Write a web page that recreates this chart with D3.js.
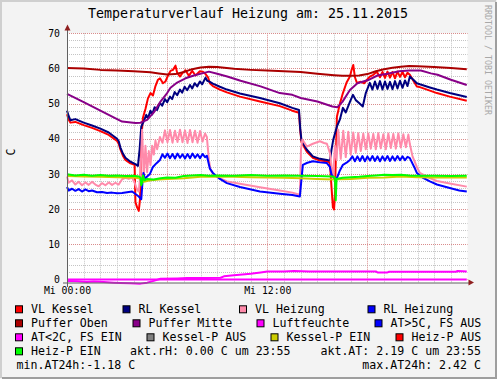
<!DOCTYPE html>
<html>
<head>
<meta charset="utf-8">
<script src="https://cdn.jsdelivr.net/npm/d3@7"></script>
<style>
body { margin: 0; background: #f3f3f3; }
svg text { font-family: "DejaVu Sans Mono", monospace; }
</style>
</head>
<body>
<svg id="chart" width="497" height="379"></svg>
<script>
// values are [hour of day, degrees C]
var vlKessel = [[0,47.0],[0.1,45.5],[0.2,44.6],[0.5,44.8],[1,43.9],[1.5,43.1],[2,42.2],[2.5,41.1],[3.0,39.4],[3.1,38.6],[3.2,37.0],[3.35,35.2],[3.5,34.0],[3.8,33.0],[4.05,32.6],[4.1,22.0],[4.2,20.5],[4.3,19.5],[4.38,23.0],[4.45,40.0],[4.55,46.0],[4.7,48.5],[4.85,51.5],[5.0,53.0],[5.15,52.3],[5.3,55.0],[5.45,56.8],[5.57,57.2],[5.75,55.8],[5.9,56.3],[6.05,58.0],[6.2,59.3],[6.35,59.6],[6.5,60.8],[6.6,58.8],[6.77,57.7],[6.9,58.6],[7.1,59.5],[7.3,57.9],[7.5,59.3],[7.7,58.0],[7.96,59.2],[8.14,59.1],[8.3,58.4],[8.45,57.5],[8.56,55.8],[8.74,55.0],[9.16,54.0],[9.58,53.2],[10.36,52.0],[11.56,50.6],[12.75,49.3],[13.5,48.0],[13.9,47.4],[13.97,42.5],[14.05,39.0],[14.37,36.3],[14.73,34.6],[15.15,33.8],[15.57,33.6],[15.75,33.2],[15.85,26.0],[15.93,20.5],[16.0,19.9],[16.05,24.0],[16.17,46.3],[16.35,50.0],[16.53,53.0],[16.75,56.0],[16.95,57.7],[17.05,59.6],[17.15,61.0],[17.25,57.5],[17.37,55.9],[17.6,56.2],[17.8,55.8],[18.14,57.7],[18.35,58.2],[18.56,59.1],[18.75,57.5],[18.9,59.0],[19.05,57.3],[19.2,59.1],[19.35,57.4],[19.5,59.0],[19.65,57.2],[19.8,59.1],[19.95,57.6],[20.1,59.0],[20.25,57.5],[20.4,58.8],[20.54,58.2],[20.75,56.5],[20.96,54.9],[21.14,54.7],[21.74,53.7],[22.16,53.0],[22.93,52.0],[23.95,50.8]];

var rlKessel = [[0,48.0],[0.1,46.5],[0.2,45.3],[0.5,45.6],[1,44.6],[1.5,43.8],[2,42.9],[2.5,41.8],[3.0,40.0],[3.1,39.3],[3.2,37.5],[3.35,35.8],[3.5,34.6],[3.8,33.5],[4.1,32.8],[4.25,32.3],[4.35,37.0],[4.45,43.5],[4.6,45.0],[4.75,46.8],[4.85,45.8],[5.0,48.0],[5.1,46.9],[5.25,49.0],[5.4,48.2],[5.57,50.2],[5.7,49.4],[5.87,51.3],[6.0,50.4],[6.17,52.0],[6.3,51.3],[6.45,53.3],[6.6,52.4],[6.77,54.0],[6.9,53.1],[7.05,54.8],[7.2,53.8],[7.37,55.3],[7.5,54.3],[7.65,55.8],[7.8,54.9],[7.96,56.3],[8.1,55.5],[8.3,57.4],[8.4,56.5],[8.56,56.2],[8.74,55.7],[9.16,54.8],[9.58,54.0],[10.36,52.9],[11.56,51.6],[12.75,50.1],[13.5,48.8],[13.9,48.2],[13.97,43.0],[14.05,39.5],[14.37,36.9],[14.73,35.0],[15.15,34.3],[15.57,34.0],[15.75,33.8],[15.85,37.0],[15.95,39.7],[16.17,43.5],[16.35,45.5],[16.53,48.8],[16.7,47.5],[16.95,50.5],[17.13,52.5],[17.3,51.0],[17.5,50.2],[17.72,49.2],[17.9,53.0],[18.14,55.9],[18.3,54.0],[18.45,56.3],[18.6,54.2],[18.75,56.4],[18.9,54.0],[19.05,56.3],[19.2,54.2],[19.35,56.2],[19.5,54.1],[19.65,56.4],[19.8,54.3],[19.95,56.5],[20.1,54.5],[20.25,56.6],[20.4,55.0],[20.54,57.7],[20.75,56.8],[20.96,55.8],[21.14,55.5],[21.74,54.6],[22.16,54.0],[22.93,53.0],[23.95,51.9]];

var vlHeizung = [[0,29.3],[0.1,27.5],[0.3,28.2],[0.5,27.0],[0.7,27.8],[0.9,26.8],[1.1,27.6],[1.3,26.9],[1.5,27.8],[1.7,27.0],[1.9,26.5],[2.1,27.4],[2.3,26.8],[2.5,27.6],[2.7,26.9],[2.9,27.5],[3.1,27.0],[3.3,28.5],[3.5,28.9],[3.7,28.6],[3.9,29.0],[4.05,27.5],[4.2,25.5],[4.3,25.0],[4.4,30.0],[4.5,42.6],[4.6,29.0],[4.7,38.0],[4.8,30.5],[4.9,36.5],[5.0,32.5],[5.1,38.0],[5.2,35.5],[5.3,39.5],[5.4,37.0],[5.57,40.5],[5.72,38.9],[5.87,42.4],[6.02,39.0],[6.17,42.5],[6.32,38.9],[6.47,42.3],[6.62,39.1],[6.77,42.6],[6.92,39.0],[7.07,42.4],[7.22,38.8],[7.37,42.5],[7.52,39.0],[7.67,42.3],[7.82,38.9],[7.97,42.2],[8.12,39.2],[8.27,41.5],[8.38,40.5],[8.5,34.0],[8.6,31.2],[8.8,29.6],[9.16,28.8],[9.58,27.9],[10.36,27.2],[11.56,26.2],[12.75,25.3],[13.5,24.7],[13.95,24.1],[14.02,37.0],[14.1,39.8],[14.37,37.8],[14.73,38.6],[15.15,39.3],[15.4,38.8],[15.57,38.6],[15.75,36.0],[15.85,32.0],[15.95,29.5],[16.05,38.0],[16.15,34.0],[16.25,42.6],[16.4,34.3],[16.55,42.3],[16.7,34.8],[16.85,42.0],[17.0,35.5],[17.15,41.8],[17.3,36.0],[17.45,41.6],[17.6,36.5],[17.75,41.5],[17.9,37.0],[18.05,41.5],[18.2,37.2],[18.35,41.4],[18.5,37.0],[18.65,41.6],[18.8,37.3],[18.95,41.3],[19.1,37.0],[19.25,41.5],[19.4,37.4],[19.55,41.4],[19.7,37.2],[19.85,41.5],[20.0,37.5],[20.15,41.3],[20.3,37.6],[20.45,41.2],[20.54,38.5],[20.7,35.0],[20.96,32.0],[21.14,30.3],[21.74,28.8],[22.16,28.0],[22.93,27.3],[23.95,26.4]];

var rlHeizung = [[0,26.3],[0.1,25.3],[0.3,25.8],[0.5,25.2],[0.7,25.7],[0.9,25.0],[1.1,25.6],[1.3,25.1],[1.5,25.3],[1.8,24.8],[2.1,24.9],[2.4,24.6],[2.7,24.7],[3.0,24.5],[3.3,24.6],[3.6,24.8],[3.9,25.0],[4.1,24.3],[4.3,23.6],[4.45,22.8],[4.52,27.5],[4.58,30.3],[4.68,28.5],[4.8,29.3],[4.97,30.0],[5.15,32.0],[5.35,33.0],[5.57,34.0],[5.72,35.6],[5.87,34.6],[6.02,35.8],[6.17,34.5],[6.32,35.7],[6.47,34.4],[6.62,35.8],[6.77,34.6],[6.92,35.6],[7.07,34.4],[7.22,35.7],[7.37,34.5],[7.52,35.8],[7.67,34.6],[7.82,35.6],[7.97,34.5],[8.12,35.7],[8.27,34.8],[8.38,35.2],[8.56,31.5],[8.74,30.3],[9.16,28.6],[9.58,27.4],[10.36,26.3],[11.56,25.0],[12.75,24.4],[13.5,24.0],[13.95,23.6],[14.13,32.6],[14.4,33.2],[14.73,33.6],[15.15,33.3],[15.57,33.1],[15.75,32.0],[15.85,29.8],[16.0,28.8],[16.17,28.8],[16.35,31.0],[16.53,32.6],[16.75,33.2],[16.95,34.0],[17.1,35.0],[17.25,33.6],[17.4,35.0],[17.55,33.7],[17.7,35.1],[17.85,33.6],[18.0,35.0],[18.15,33.8],[18.3,35.1],[18.45,33.7],[18.6,35.0],[18.75,33.6],[18.9,35.0],[19.05,33.8],[19.2,35.1],[19.35,33.7],[19.5,35.0],[19.65,33.8],[19.8,35.1],[19.95,33.9],[20.1,35.0],[20.25,33.9],[20.4,34.9],[20.54,34.5],[20.8,32.0],[20.96,30.3],[21.3,29.0],[21.74,27.9],[22.16,27.0],[22.93,26.0],[23.5,25.3],[23.95,25.0]];

var pufferOben = [[0,60.1],[1,60.0],[2,59.6],[3,59.4],[4,59.2],[5,58.9],[5.5,58.6],[6,58.3],[6.5,58.4],[7,59.0],[7.5,59.8],[8,60.3],[8.5,60.5],[9,60.4],[10,59.9],[11,59.6],[12,59.4],[13,59.2],[14,59.0],[15,58.5],[16,58.1],[16.5,57.9],[17,57.9],[17.5,58.0],[18,58.4],[18.5,59.2],[19,59.8],[19.5,60.2],[20,60.5],[20.5,60.7],[21,60.6],[22,60.4],[23,60.1],[23.95,59.8]];

var pufferMitte = [[0,52.8],[1,50.4],[2,48.0],[3,45.6],[3.3,44.9],[4.1,44.5],[4.4,44.6],[4.8,45.4],[5.2,47.5],[5.6,50.6],[6.0,53.0],[6.2,54.5],[6.6,56.0],[7.1,57.2],[7.6,58.0],[8.1,58.6],[8.5,59.1],[9.0,58.5],[9.6,57.7],[10.4,56.5],[11.6,54.9],[12.75,53.0],[13.5,52.5],[14,51.6],[15,50.6],[15.9,49.2],[16.2,49.0],[16.5,50.5],[16.95,53.9],[17.4,55.8],[18.1,56.8],[18.6,58.0],[19.2,58.5],[19.9,59.2],[20.5,59.4],[21.2,59.4],[21.8,58.6],[22.2,58.2],[23,56.8],[23.95,55.3]];

var luftfeuchte = [[0,0],[23.95,0]];

var aussenTemp = [[0,-0.4],[0.6,-0.5],[1.2,-0.7],[1.6,-0.6],[2.2,-0.7],[2.8,-0.9],[3.2,-1.0],[3.8,-1.1],[4.4,-1.18],[4.8,-0.9],[5.2,-0.4],[5.6,0.2],[6.6,0.3],[7.2,0.4],[8.3,0.4],[9.2,0.5],[9.4,0.9],[10.0,1.2],[10.5,1.4],[11.0,1.6],[11.6,2.0],[12.0,2.3],[13,2.3],[13.6,2.4],[14.5,2.3],[15.5,2.3],[16.5,2.3],[17.5,2.3],[18.5,2.3],[18.6,2.0],[19.2,2.0],[19.3,2.2],[20.5,2.2],[21.5,2.2],[22.5,2.2],[23.3,2.2],[23.4,2.42],[23.95,2.3]];

var kesselPEin = [[0,29.4],[1,29.3],[2,29.2],[3,29.1],[4,29.0],[4.4,28.7],[4.6,27.8],[5,28.2],[5.5,28.4],[6,28.6],[7,28.8],[8,29.2],[9,29.3],[10,29.2],[11,29.1],[12,29.0],[13,28.9],[14,28.8],[15,28.6],[16,28.4],[16.2,28.5],[17,28.6],[18,28.9],[19,29.0],[20,29.3],[21,29.1],[22,29.0],[23,29.0],[23.95,29.0]];

var heizPEin = [[0,29.9],[0.5,29.6],[1,29.8],[1.5,29.5],[2,29.7],[2.5,29.5],[3,29.6],[3.5,29.4],[4,29.5],[4.3,29.3],[4.4,29.0],[4.45,26.8],[4.5,27.5],[4.55,29.6],[4.65,28.2],[4.8,28.6],[5.2,28.4],[5.6,28.8],[6,29.0],[6.5,28.9],[7,29.4],[7.5,29.6],[8,29.7],[8.5,29.5],[9,29.6],[10,29.5],[11,29.7],[12,29.5],[13,29.6],[14,29.5],[15,29.4],[15.9,29.3],[16.05,29.0],[16.1,22.5],[16.15,28.6],[16.5,28.9],[17,29.1],[17.5,29.2],[18,29.4],[18.5,29.6],[19,29.8],[19.5,29.7],[20,29.8],[20.5,29.6],[21,29.5],[22,29.5],[23,29.4],[23.95,29.5]];

var legendLabels = ["VL Kessel", "RL Kessel", "VL Heizung", "RL Heizung",
    "Puffer Oben", "Puffer Mitte", "Luftfeuchte", "AT>5C, FS AUS",
    "AT<2C, FS EIN", "Kessel-P AUS", "Kessel-P EIN", "Heiz-P AUS", "Heiz-P EIN"];
var legendColors = ["#FF0000", "#000080", "#FF8AAA", "#0000FF",
    "#AA0000", "#880088", "#FF00FF", "#0000FF",
    "#FF00FF", "#808080", "#CCCC00", "#FF0000", "#00FF00"];
var statLabels = ["akt.rH: 0.00 C um 23:55", "akt.AT: 2.19 C um 23:55",
    "min.AT24h:-1.18 C", "max.AT24h: 2.42 C"];

var yTicks = [0, 10, 20, 30, 40, 50, 60, 70];
var xTickValues = [0, 12];
var xTickLabels = ["Mi 00:00", "Mi 12:00"];

// series drawn in legend order (later ones on top)
var series = [
    {data: vlKessel, color: "#FF0000"},
    {data: rlKessel, color: "#000080"},
    {data: vlHeizung, color: "#FF8AAA"},
    {data: rlHeizung, color: "#0000FF"},
    {data: pufferOben, color: "#AA0000"},
    {data: pufferMitte, color: "#880088"},
    {data: luftfeuchte, color: "#FF00FF"},
    {data: aussenTemp, color: "#FF00FF"},
    {data: kesselPEin, color: "#CCCC00"},
    {data: heizPEin, color: "#00FF00"}
];

var W = 497, H = 379;
var svg = d3.select("#chart");

// background + 3d frame
svg.append("rect").attr("width", W).attr("height", H).attr("fill", "#F3F3F3");
svg.append("path").attr("d", "M1,378 V1 H496").attr("fill", "none")
    .attr("stroke", "#CFCFCF").attr("stroke-width", 2);
svg.append("path").attr("d", "M2,378 H496 V2").attr("fill", "none")
    .attr("stroke", "#9E9E9E").attr("stroke-width", 2);

var x = d3.scaleLinear().domain([0, 24]).range([67, 467.6]);
var y = d3.scaleLinear().domain([-1, 70]).range([283, 33.3]);

svg.append("rect")
    .attr("x", x(0)).attr("y", y(70))
    .attr("width", x(24) - x(0)).attr("height", y(-1) - y(70))
    .attr("fill", "white");

function px(v) { return Math.round(v) + 0.5; }

// grid
var grid = svg.append("g").attr("stroke-width", 1).attr("stroke-dasharray", "1,1");
grid.selectAll(".vmin").data(d3.range(1, 25).filter(function(h) { return h % 6; }))
    .enter().append("line")
    .attr("x1", function(d) { return px(x(d)); }).attr("x2", function(d) { return px(x(d)); })
    .attr("y1", y(70)).attr("y2", y(-1))
    .attr("stroke", "#C4C4C4");
grid.selectAll(".hmin").data(d3.range(0, 71, 2).filter(function(v) { return v % 10; }))
    .enter().append("line")
    .attr("y1", function(d) { return px(y(d)); }).attr("y2", function(d) { return px(y(d)); })
    .attr("x1", x(0)).attr("x2", x(24))
    .attr("stroke", "#C4C4C4");
grid.selectAll(".vmaj").data([6, 12, 18])
    .enter().append("line")
    .attr("x1", function(d) { return px(x(d)); }).attr("x2", function(d) { return px(x(d)); })
    .attr("y1", y(70)).attr("y2", y(-1))
    .attr("stroke", "#D98C8C");
grid.selectAll(".hmaj").data(yTicks)
    .enter().append("line")
    .attr("y1", function(d) { return px(y(d)); }).attr("y2", function(d) { return px(y(d)); })
    .attr("x1", x(0)).attr("x2", x(24))
    .attr("stroke", "#D98C8C");

// lines
var line = d3.line()
    .x(function(d) { return x(d[0]); })
    .y(function(d) { return y(d[1]); });

svg.append("g").selectAll("path").data(series)
    .enter().append("path")
    .attr("d", function(d) { return line(d.data); })
    .attr("fill", "none")
    .attr("stroke", function(d) { return d.color; })
    .attr("stroke-width", 2)
    .attr("stroke-linejoin", "round");

// axis lines and arrows
svg.append("line").attr("x1", 63).attr("x2", 470).attr("y1", px(y(-1)) - 0.5).attr("y2", px(y(-1)) - 0.5)
    .attr("stroke", "#606060").attr("stroke-width", 1);
svg.append("line").attr("x1", 67.5).attr("x2", 67.5).attr("y1", 287).attr("y2", 28)
    .attr("stroke", "#606060").attr("stroke-width", 1);
svg.append("path").attr("d", "M64.5,30.5 L67.5,24.5 L70.5,30.5 Z").attr("fill", "#8F1F1F");
svg.append("path").attr("d", "M468.5,279.5 L474,282.5 L468.5,285.5 Z").attr("fill", "#8F1F1F");

// tick labels
var yAxis = svg.append("g")
    .attr("transform", "translate(" + x(0) + ",0)")
    .call(d3.axisLeft(y).tickValues(yTicks).tickSize(0).tickPadding(7));
yAxis.select(".domain").remove();

var xAxis = svg.append("g")
    .attr("transform", "translate(0," + y(-1) + ")")
    .call(d3.axisBottom(x).tickValues(xTickValues).tickSize(0).tickPadding(4)
        .tickFormat(function(d, i) { return xTickLabels[i]; }));
xAxis.select(".domain").remove();

svg.selectAll(".tick text")
    .style("font-family", "DejaVu Sans Mono")
    .style("font-size", "9.8px")
    .attr("fill", "#000");

// title, axis label, watermark
svg.append("text")
    .attr("x", 248).attr("y", 18)
    .style("text-anchor", "middle")
    .style("font-size", "13.3px")
    .text("Temperaturverlauf Heizung am: 25.11.2015");

svg.append("text")
    .attr("transform", "translate(15,152) rotate(-90)")
    .style("text-anchor", "middle")
    .style("font-size", "11.6px")
    .text("C");

svg.append("text")
    .attr("transform", "translate(485,5) rotate(90)")
    .style("font-size", "8.3px")
    .attr("fill", "#A8A8A8")
    .text("RRDTOOL / TOBI OETIKER");

// legend: text start of each entry, swatch sits 16px to its left
var legendTextX = [31, 138.5, 255, 383.5, 31, 148.5, 272.5, 390.5, 31, 162.5, 286.5, 411.5, 31];
var rowBase = [313.3, 327.3, 341.3, 355.3, 369.3];

var legendItem = svg.append("g").selectAll(".legendItem")
    .data(legendLabels)
    .enter().append("g")
    .attr("class", "legendItem")
    .attr("transform", function(d, i) {
        return "translate(" + legendTextX[i] + "," + rowBase[Math.floor(i / 4)] + ")";
    });

legendItem.append("rect")
    .attr("x", -15.5).attr("y", -7.5)
    .attr("width", 7).attr("height", 7)
    .attr("fill", function(d, i) { return legendColors[i]; })
    .attr("stroke", "#000")
    .attr("stroke-width", 1);

legendItem.append("text")
    .attr("x", 0)
    .attr("y", 0)
    .style("font-size", "11.6px")
    .text(function(d) { return d; });

var statPos = [[130, rowBase[3], "start"], [481, rowBase[3], "end"],
    [16.5, rowBase[4], "start"], [481, rowBase[4], "end"]];
svg.append("g").selectAll("text")
    .data(statLabels)
    .enter().append("text")
    .attr("x", function(d, i) { return statPos[i][0]; })
    .attr("y", function(d, i) { return statPos[i][1]; })
    .style("text-anchor", function(d, i) { return statPos[i][2]; })
    .style("font-size", "11.6px")
    .text(function(d) { return d; });
</script>
</body>
</html>
